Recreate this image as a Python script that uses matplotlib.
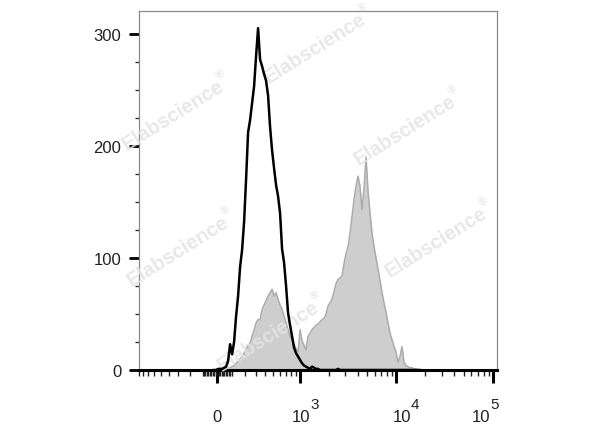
import numpy as np
import matplotlib
matplotlib.use("Agg")
import matplotlib.pyplot as plt
from matplotlib.ticker import FixedLocator

plt.rcParams['font.family'] = ['Liberation Sans', 'DejaVu Sans']

# histogram channels (evenly spaced on the biexponential display scale)
W = 285.0
def fwd(x):
    return np.arcsinh(np.asarray(x) / W) / np.log(10)
def inv(u):
    return W * np.sinh(np.asarray(u) * np.log(10))

channel_u = np.linspace(-0.031, 2.093, 104)
channel_x = inv(channel_u)

# unstained control (black line)
control = [0, 0, 1, 1, 1, 2, 3, 8, 23, 14, 25, 48, 66, 92, 107, 132, 170, 212,
           223, 238, 253, 280, 305, 277, 271, 264, 258, 245, 217, 196, 180, 165,
           155, 140, 108, 96, 75, 51, 40, 30, 20, 15, 12, 9, 6, 4, 3, 2,
           1, 3, 2, 1, 1, 0, 0, 0, 0, 0, 0, 0, 0, 0, 1, 0, 0, 0,
           0, 0, 0, 0, 0, 0, 0, 0, 0, 0, 0, 0, 0, 0, 0, 0, 0, 0,
           0, 0, 0, 0, 0, 0, 0, 0, 0, 0, 0, 0, 0, 0, 0, 0, 0, 0, 0, 0]

# stained sample (grey filled)
stained = [0, 0, 0, 0, 0, 1, 1, 2, 2, 3, 4, 6, 8, 10, 12, 15, 18, 22,
           24, 30, 36, 42, 45, 45, 54, 58, 62, 66, 69, 72, 66, 69, 63, 58,
           54, 48, 42, 36, 30, 27, 23, 19, 16, 36, 26, 22, 18, 30, 33, 36,
           38, 40, 41, 43, 45, 46, 50, 57, 60, 63, 70, 77, 81, 82, 84, 95,
           104, 110, 122, 137, 152, 164, 173, 164, 143, 162, 190, 160, 140, 122,
           110, 100, 90, 80, 69, 60, 52, 42, 33, 27, 21, 16, 7, 12,
           21, 7, 4, 3, 2, 2, 1, 1, 0, 0]

major_x = [0, 1e3, 1e4, 1e5]
major_x_base = ['0', '10', '10', '10']
major_x_exp = ['', '3', '4', '5']
label_shift = [0, 1, 6, -12]   # pixel nudges so labels sit where the reference has them
minor_x = ([-v for v in range(100, 1000, 100)] + [-v for v in range(10, 100, 10)] +
           list(range(10, 100, 10)) + list(range(100, 1000, 100)) +
           list(range(2000, 10000, 1000)) + list(range(20000, 100000, 10000)))
major_y = [0, 100, 200, 300]
minor_y = [25, 50, 75, 125, 150, 175, 225, 250, 275]

fig = plt.figure(figsize=(6, 4.27), dpi=100)
ax = fig.add_axes([138.5 / 600, 1 - 371 / 427, (497 - 138.5) / 600, (371 - 12.3) / 427])
ax.set_xscale('function', functions=(fwd, inv))
ax.set_xlim(-900, 110000)
ax.set_ylim(0, 320)

ax.fill_between(channel_x, stained, 0, color='#cecece', lw=0, zorder=1.5)
ax.plot(channel_x, stained, color='#ababab', lw=1.1, zorder=1.6)
ax.plot(channel_x, control, color='black', lw=1.8, zorder=3)

for s in ['left', 'top', 'right']:
    ax.spines[s].set_color('#8a8a8a')
    ax.spines[s].set_linewidth(0.9)
ax.spines['bottom'].set_color('black')
ax.spines['bottom'].set_linewidth(2.2)

ax.xaxis.set_major_locator(FixedLocator(major_x))
ax.xaxis.set_minor_locator(FixedLocator(minor_x))
ax.set_xticklabels([])
ax.yaxis.set_major_locator(FixedLocator(major_y))
ax.yaxis.set_minor_locator(FixedLocator(minor_y))

ax.tick_params(axis='x', which='major', direction='out', length=9, width=2.2, color='black')
ax.tick_params(axis='x', which='minor', direction='out', length=4, width=1, color='#222222')
ax.tick_params(axis='y', which='major', direction='out', length=7.5, width=2, color='black',
               labelsize=12, labelcolor='#222222', pad=5)
ax.tick_params(axis='y', which='minor', direction='out', length=3, width=1, color='#333333')

# x tick labels: base and raised exponent
for xv, base, ex, dx in zip(major_x, major_x_base, major_x_exp, label_shift):
    ax.annotate(base, xy=(xv, 0), xycoords=('data', 'axes fraction'),
                xytext=(dx, -51), textcoords='offset pixels',
                ha='center', va='baseline', fontsize=12, color='#222222',
                annotation_clip=False)
    if ex:
        ax.annotate(ex, xy=(xv, 0), xycoords=('data', 'axes fraction'),
                    xytext=(dx + 9, -38), textcoords='offset pixels',
                    ha='left', va='baseline', fontsize=11, color='#222222',
                    annotation_clip=False)

# watermark
ang = np.deg2rad(32)
marks = [(173, 116), (315, 49), (405, 131), (178, 252), (268, 337), (436, 243)]
for px, py in marks:
    xy = (px / 600, 1 - py / 427)
    ax.annotate('Elabscience', xy=xy, xycoords='figure fraction',
                rotation=32, ha='center', va='center', fontsize=14.5, fontweight='bold',
                color='#e4e4e4', alpha=0.85, zorder=2.6, annotation_clip=False)
    ax.annotate('®', xy=xy, xycoords='figure fraction',
                xytext=(62 * np.cos(ang) - 9 * np.sin(ang), 62 * np.sin(ang) + 9 * np.cos(ang)),
                textcoords='offset pixels', rotation=32, ha='center', va='center',
                fontsize=8, fontweight='bold', color='#e4e4e4', alpha=0.85, zorder=2.6,
                annotation_clip=False)

fig.savefig('out.png', dpi=100)
